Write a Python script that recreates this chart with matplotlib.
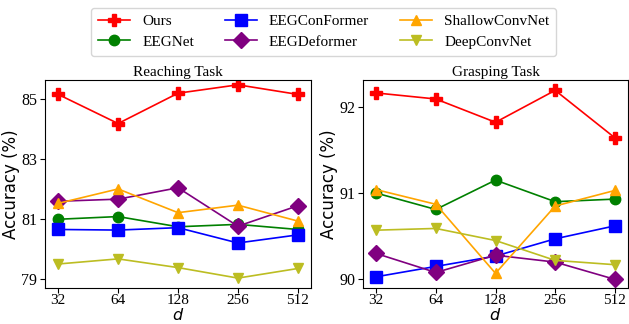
import matplotlib
matplotlib.use('Agg')
import matplotlib.pyplot as plt

d_labels = ['32', '64', '128', '256', '512']
methods = ['Ours', 'EEGNet', 'EEGConFormer', 'EEGDeformer', 'ShallowConvNet', 'DeepConvNet']

reach_ours = [85.15, 84.18, 85.19, 85.47, 85.15]
reach_eegnet = [80.99, 81.08, 80.74, 80.82, 80.65]
reach_conformer = [80.65, 80.63, 80.71, 80.20, 80.47]
reach_deformer = [81.59, 81.66, 82.04, 80.76, 81.44]
reach_shallow = [81.52, 82.00, 81.21, 81.46, 80.93]
reach_deep = [79.50, 79.67, 79.38, 79.03, 79.35]

grasp_ours = [92.16, 92.09, 91.82, 92.19, 91.64]
grasp_eegnet = [91.00, 90.81, 91.15, 90.90, 90.93]
grasp_conformer = [90.03, 90.15, 90.27, 90.47, 90.62]
grasp_deformer = [90.30, 90.08, 90.28, 90.20, 90.00]
grasp_shallow = [91.04, 90.87, 90.07, 90.85, 91.03]
grasp_deep = [90.57, 90.59, 90.45, 90.22, 90.17]

styles = {
    'Ours': ('red', 'P'),
    'EEGNet': ('green', 'o'),
    'EEGConFormer': ('blue', 's'),
    'EEGDeformer': ('purple', 'D'),
    'ShallowConvNet': ('orange', '^'),
    'DeepConvNet': ('#bcbd22', 'v'),
}

reach = [reach_ours, reach_eegnet, reach_conformer, reach_deformer, reach_shallow, reach_deep]
grasp = [grasp_ours, grasp_eegnet, grasp_conformer, grasp_deformer, grasp_shallow, grasp_deep]

serif = 'Liberation Serif'
fig = plt.figure(figsize=(6.29, 3.24), dpi=100)
ax1 = fig.add_axes([45/629, 36/324, 266/629, 208/324])
ax2 = fig.add_axes([363/629, 36/324, 265/629, 208/324])

x = range(len(d_labels))
handles = []
for ax, data, title, ticks, ylim in [
        (ax1, reach, 'Reaching Task', [79, 81, 83, 85], (78.7, 85.63)),
        (ax2, grasp, 'Grasping Task', [90, 91, 92], (89.9, 92.31))]:
    for name, vals in zip(methods, data):
        c, m = styles[name]
        ms = 8 if m in ('P', 's', 'D') else 7.5
        h, = ax.plot(x, vals, color=c, marker=m, markersize=ms, linewidth=1.2, label=name)
        if ax is ax1:
            handles.append(h)
    ax.set_xticks(list(x))
    ax.set_xticklabels(d_labels, fontfamily=serif, fontsize=11)
    ax.set_yticks(ticks)
    ax.set_yticklabels([str(t) for t in ticks], fontfamily=serif, fontsize=11.5)
    ax.tick_params(axis='x', pad=1)
    ax.tick_params(axis='y', pad=2)
    ax.set_ylim(*ylim)
    ax.set_xlim(-0.22, 4.22)
    ax.set_title(title, fontfamily=serif, fontsize=11, pad=3)
    ax.set_xlabel('$d$', fontsize=11.5, labelpad=-0.5)
    ax.set_ylabel('Accuracy (%)', fontsize=12, labelpad=1)

fig.legend(handles, methods, ncol=3,
           loc='upper center', bbox_to_anchor=(0.5145, 1.0),
           prop={'family': serif, 'size': 11}, frameon=True,
           handlelength=2.1, handletextpad=0.8, columnspacing=2.0,
           borderpad=0.45, labelspacing=0.45)

fig.savefig('out.png', dpi=100)
